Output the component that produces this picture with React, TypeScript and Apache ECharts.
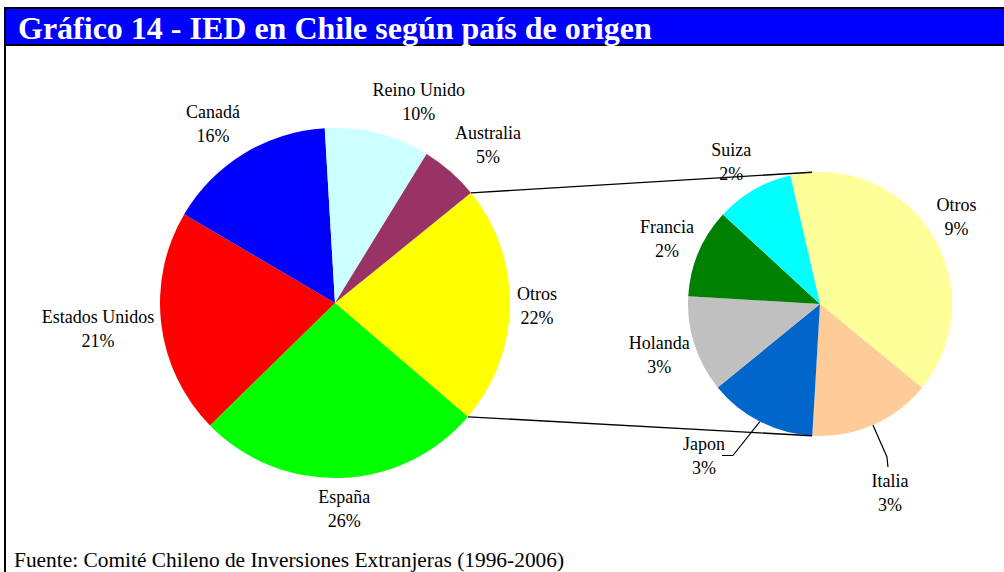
import React, { useEffect, useRef } from "react";
import * as echarts from "echarts";

const mainNames = ["Otros", "España", "Estados Unidos", "Canadá", "Reino Unido", "Australia"];
const mainValues = [22.1, 26.4, 20.8, 15.6, 9.7, 5.4];
const mainColors = ["#FFFF00", "#00FF00", "#FF0000", "#0000FF", "#CCFFFF", "#993366"];

const subNames = ["Otros", "Italia", "Japon", "Holanda", "Francia", "Suiza"];
const subValues = [8.7, 3.3, 2.9, 2.6, 2.4, 2.1];
const subColors = ["#FFFF99", "#FFCC99", "#0066CC", "#C0C0C0", "#008000", "#00FFFF"];
const subLeader = ["Japon", "Italia"];

const titleText = "Gráfico 14 - IED en Chile según país de origen";
const sourceText = "Fuente: Comité Chileno de Inversiones Extranjeras (1996-2006)";

const FONT = "'Liberation Serif', 'Times New Roman', serif";

const MAIN = { cx: 335, cy: 303, r: 175, start: 39 };
const SUB = { cx: 820, cy: 304, r: 132, start: 103 };

function midAngle(values: number[], i: number, start: number) {
  const total = values.reduce((a, b) => a + b, 0);
  let before = 0;
  for (let k = 0; k < i; k++) before += values[k];
  return start - (360 * (before + values[i] / 2)) / total;
}

function place(g: any, theta: number, w: number, h: number, d: number) {
  const rad = (theta * Math.PI) / 180;
  const c = Math.cos(rad);
  const s = Math.sin(rad);
  const px = g.cx + (g.r + d) * c;
  const py = g.cy - (g.r + d) * s;
  const fx = Math.max(-1, Math.min(1, c * 3.5));
  const fy = Math.max(-1, Math.min(1, s * 1.2));
  return { x: px + (fx * w) / 2, y: py - (fy * h) / 2 };
}

export default function App() {
  const ref = useRef<HTMLDivElement>(null);
  useEffect(() => {
    if (!ref.current) return;
    const chart = echarts.init(ref.current, null, { renderer: "svg" });

    const labelBase = {
      show: true,
      position: "outside",
      fontFamily: FONT,
      fontSize: 18,
      lineHeight: 24,
      color: "#000",
      align: "center",
      formatter: (p: any) => `${p.name}\n${Math.round(p.value)}%`,
    };

    const totalMain = mainValues.reduce((a, b) => a + b, 0);
    const otrosAngle = (360 * mainValues[0]) / totalMain;
    const rad = (a: number) => (a * Math.PI) / 180;
    const m1 = [MAIN.cx + MAIN.r * Math.cos(rad(MAIN.start)), MAIN.cy - MAIN.r * Math.sin(rad(MAIN.start))];
    const endA = MAIN.start - otrosAngle;
    const m2 = [MAIN.cx + MAIN.r * Math.cos(rad(endA)), MAIN.cy - MAIN.r * Math.sin(rad(endA))];
    const s1 = [SUB.cx + SUB.r * Math.cos(rad(93.5)), SUB.cy - SUB.r * Math.sin(rad(93.5))];
    const s2 = [SUB.cx + SUB.r * Math.cos(rad(-93.5)), SUB.cy - SUB.r * Math.sin(rad(-93.5))];

    chart.setOption({
      animation: false,
      backgroundColor: "#ffffff",
      graphic: [
        { type: "line", shape: { x1: 5, y1: 8, x2: 5, y2: 572 }, style: { stroke: "#000", lineWidth: 2 } },
        { type: "rect", shape: { x: 5, y: 8, width: 1000, height: 37 }, style: { fill: "#0000FF", stroke: "#000", lineWidth: 2 } },
        {
          type: "text",
          x: 18,
          y: 28,
          z: 5,
          style: { text: titleText, fill: "#fff", font: `bold 32px ${FONT}`, verticalAlign: "middle", align: "left" },
        },
        {
          type: "text",
          x: 14,
          y: 560,
          style: { text: sourceText, fill: "#000", font: `21.4px ${FONT}`, verticalAlign: "middle", align: "left" },
        },
        { type: "line", shape: { x1: m1[0], y1: m1[1], x2: s1[0], y2: s1[1] }, style: { stroke: "#000", lineWidth: 1.3 }, z: 10 },
        { type: "line", shape: { x1: m2[0], y1: m2[1], x2: s2[0], y2: s2[1] }, style: { stroke: "#000", lineWidth: 1.3 }, z: 10 },
      ],
      series: [
        {
          type: "pie",
          center: [MAIN.cx, MAIN.cy],
          radius: MAIN.r,
          startAngle: MAIN.start,
          clockwise: true,
          avoidLabelOverlap: false,
          label: labelBase,
          labelLine: { show: false },
          emphasis: { disabled: true },
          data: mainNames.map((n, i) => ({ name: n, value: mainValues[i], itemStyle: { color: mainColors[i] } })),
          labelLayout: (p: any) => {
            const th = midAngle(mainValues, p.dataIndex, MAIN.start);
            const pos = place(MAIN, th, p.labelRect.width, p.labelRect.height, 7);
            return { x: pos.x, y: pos.y, align: "center", verticalAlign: "middle" };
          },
        },
        {
          type: "pie",
          center: [SUB.cx, SUB.cy],
          radius: SUB.r,
          startAngle: SUB.start,
          clockwise: true,
          avoidLabelOverlap: false,
          label: labelBase,
          labelLine: { show: false, lineStyle: { color: "#000", width: 1.2 } },
          emphasis: { disabled: true },
          data: subNames.map((n, i) => ({
            name: n,
            value: subValues[i],
            itemStyle: { color: subColors[i] },
            labelLine: { show: subLeader.includes(n), length: 30, length2: 8 },
          })),
          labelLayout: (p: any) => {
            const i = p.dataIndex;
            const th = midAngle(subValues, i, SUB.start);
            const w = p.labelRect.width;
            const h = p.labelRect.height;
            if (subLeader.includes(subNames[i])) {
              const r0 = (th * Math.PI) / 180;
              const e = [SUB.cx + SUB.r * Math.cos(r0), SUB.cy - SUB.r * Math.sin(r0)];
              if (Math.abs(Math.cos(r0)) > 0.42) {
                const sign = Math.cos(r0) < 0 ? -1 : 1;
                const b = [e[0] + sign * 27, e[1] + 34];
                const t = [b[0] + sign * 11, b[1]];
                return {
                  x: t[0] + (sign * w) / 2 - sign * 3,
                  y: t[1],
                  align: "center",
                  verticalAlign: "middle",
                  labelLinePoints: [e, b, t],
                };
              }
              const d = 35;
              const b = [SUB.cx + (SUB.r + d) * Math.cos(r0), SUB.cy - (SUB.r + d) * Math.sin(r0)];
              const t = [b[0] + 1, b[1] + 10];
              return {
                x: t[0] + 2,
                y: t[1] + h / 2 + 2,
                align: "center",
                verticalAlign: "middle",
                labelLinePoints: [e, b, t],
              };
            }
            const pos = place(SUB, th, w, h, 5);
            return { x: pos.x, y: pos.y, align: "center", verticalAlign: "middle" };
          },
        },
      ],
    });
    return () => chart.dispose();
  }, []);
  return (
    <div
      ref={ref}
      style={{ position: "absolute", left: 0, top: 0, width: 1004, height: 572 }}
    />
  );
}
